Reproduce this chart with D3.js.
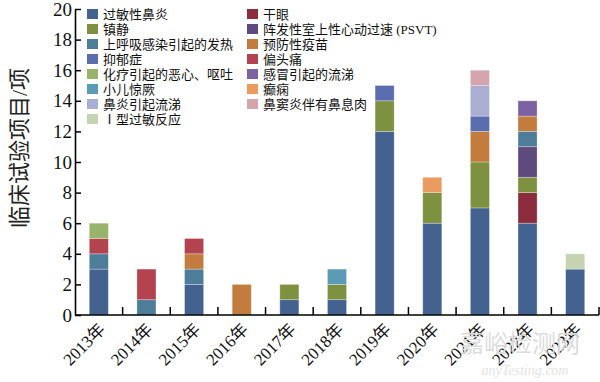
<!DOCTYPE html>
<html>
<head>
<meta charset="utf-8">
<script src="https://cdn.jsdelivr.net/npm/d3@7"></script>
<style>
  body { margin: 0; background: #fff; }
  text { font-family: "Liberation Serif", "Noto Sans CJK SC", serif; }
</style>
</head>
<body>
<div id="chart"></div>
<script>
// categories (years)
const years = ["2013年","2014年","2015年","2016年","2017年","2018年","2019年","2020年","2021年","2022年","2023年"];

// series names in stacking / legend order (legend is filled row by row, 2 columns)
const seriesNames = [
  "过敏性鼻炎", "干眼",
  "镇静", "阵发性室上性心动过速 (PSVT)",
  "上呼吸感染引起的发热", "预防性疫苗",
  "抑郁症", "偏头痛",
  "化疗引起的恶心、呕吐", "感冒引起的流涕",
  "小儿惊厥", "癫痫",
  "鼻炎引起流涕", "鼻窦炎伴有鼻息肉",
  "Ⅰ型过敏反应"
];
const seriesColors = [
  "#446290", "#8b2d3c",
  "#7e9140", "#5e4a7c",
  "#4e7d99", "#c27c3e",
  "#5a6dae", "#b2434f",
  "#98b46a", "#7d62a2",
  "#5c9bb6", "#eb9a60",
  "#abaed3", "#d5a5ad",
  "#c6d3b3"
];

// values per series, one per year
const allergicRhinitis = [3,0,2,0,1,1,12,6,7,6,3];
const dryEye           = [0,0,0,0,0,0,0,0,0,2,0];
const sedation         = [0,0,0,0,1,1,2,2,3,1,0];
const psvt             = [0,0,0,0,0,0,0,0,0,2,0];
const uriFever         = [1,1,1,0,0,0,0,0,0,1,0];
const vaccine          = [0,0,1,2,0,0,0,0,2,1,0];
const depression       = [0,0,0,0,0,0,1,0,1,0,0];
const migraine         = [1,2,1,0,0,0,0,0,0,0,0];
const cinv             = [1,0,0,0,0,0,0,0,0,0,0];
const coldRhinorrhea   = [0,0,0,0,0,0,0,0,0,1,0];
const febrileSeizure   = [0,0,0,0,0,1,0,0,0,0,0];
const epilepsy         = [0,0,0,0,0,0,0,1,0,0,0];
const rhinitisRunny    = [0,0,0,0,0,0,0,0,2,0,0];
const sinusPolyps      = [0,0,0,0,0,0,0,0,1,0,0];
const typeOneAllergy   = [0,0,0,0,0,0,0,0,0,0,1];

const seriesValues = [allergicRhinitis, dryEye, sedation, psvt, uriFever, vaccine,
  depression, migraine, cinv, coldRhinorrhea, febrileSeizure, epilepsy,
  rhinitisRunny, sinusPolyps, typeOneAllergy];

const yTicks = [0,2,4,6,8,10,12,14,16,18,20];

const width = 600, height = 382;
const margin = {top: 9, right: 1, bottom: 67, left: 75};
const w = width - margin.left - margin.right,
      h = height - margin.top - margin.bottom;

const svg = d3.select("#chart").append("svg")
  .attr("width", width).attr("height", height);

const g = svg.append("g").attr("transform", `translate(${margin.left},${margin.top})`);

// build table for d3.stack
const table = years.map((yr, i) => {
  const row = {year: yr};
  seriesNames.forEach((s, j) => row[s] = seriesValues[j][i]);
  return row;
});
const stacked = d3.stack().keys(seriesNames)(table);

const x = d3.scaleBand().domain(years).range([0, w]).paddingInner(0.6).paddingOuter(0.3);
const y = d3.scaleLinear().domain([0, 20]).range([h, 0]);
const color = d3.scaleOrdinal().domain(seriesNames).range(seriesColors);

// bars
g.selectAll("g.layer").data(stacked).join("g")
  .attr("class", "layer")
  .attr("fill", d => color(d.key))
  .selectAll("rect").data(d => d.filter(p => p[1] > p[0])).join("rect")
    .attr("x", d => x(d.data.year))
    .attr("y", d => y(d[1]))
    .attr("width", x.bandwidth())
    .attr("height", d => y(d[0]) - y(d[1]))
    .attr("stroke", "rgba(255,255,255,0.35)")
    .attr("stroke-width", 0.8);

// y axis (ticks inward)
const yAxis = g.append("g")
  .call(d3.axisLeft(y).tickValues(yTicks).tickSizeInner(-6).tickSizeOuter(0).tickPadding(4));
yAxis.select(".domain").attr("stroke", "#000").attr("stroke-width", 1.6);
yAxis.selectAll(".tick line").attr("stroke", "#000").attr("stroke-width", 1.5);
yAxis.selectAll(".tick text").attr("font-size", 19).attr("fill", "#111")
  .attr("x", -3);

// x axis: ticks at band boundaries, pointing up
const step = x.step();
const xAxis = g.append("g").attr("transform", `translate(0,${h})`);
xAxis.append("line").attr("x1", 0).attr("x2", w).attr("stroke", "#000").attr("stroke-width", 1.6);
xAxis.selectAll("line.tk").data(years).join("line")
  .attr("class", "tk")
  .attr("x1", d => x(d) - x.paddingOuter() * step + step)
  .attr("x2", d => x(d) - x.paddingOuter() * step + step)
  .attr("y1", 0).attr("y2", -8)
  .attr("stroke", "#000").attr("stroke-width", 1.5);
xAxis.selectAll("text").data(years).join("text")
  .attr("transform", d => `translate(${x(d) + x.bandwidth() / 2 - 1},7) rotate(-45)`)
  .attr("text-anchor", "end")
  .attr("dy", "0.7em")
  .attr("font-size", 17)
  .attr("fill", "#111")
  .text(d => d);

// y title
svg.append("text")
  .attr("transform", `translate(27,148) rotate(-90)`)
  .attr("text-anchor", "middle")
  .attr("font-size", 22)
  .attr("fill", "#222")
  .text("临床试验项目/项");

// legend, two columns filled row by row
const legend = svg.append("g");
const items = legend.selectAll("g").data(seriesNames).join("g")
  .attr("transform", (d, i) => `translate(${i % 2 === 0 ? 87 : 247},${14 + Math.floor(i / 2) * 15})`);
items.append("rect")
  .attr("x", 0).attr("y", -5).attr("width", 11).attr("height", 10)
  .attr("fill", d => color(d));
items.append("text")
  .attr("x", 16).attr("y", 0).attr("dy", "0.36em")
  .attr("font-size", 13).attr("fill", "#111")
  .text(d => d);

// faint watermark
svg.append("text").attr("x", 520).attr("y", 352).attr("text-anchor", "middle")
  .attr("font-size", 24).attr("fill", "#dcdcdc").attr("font-family", "Noto Sans CJK SC")
  .text("嘉峪检测网");
svg.append("text").attr("x", 525).attr("y", 375).attr("text-anchor", "middle")
  .attr("font-size", 14).attr("fill", "#e4e4e4").attr("font-style", "italic")
  .text("anyTesting.com");
</script>
</body>
</html>
